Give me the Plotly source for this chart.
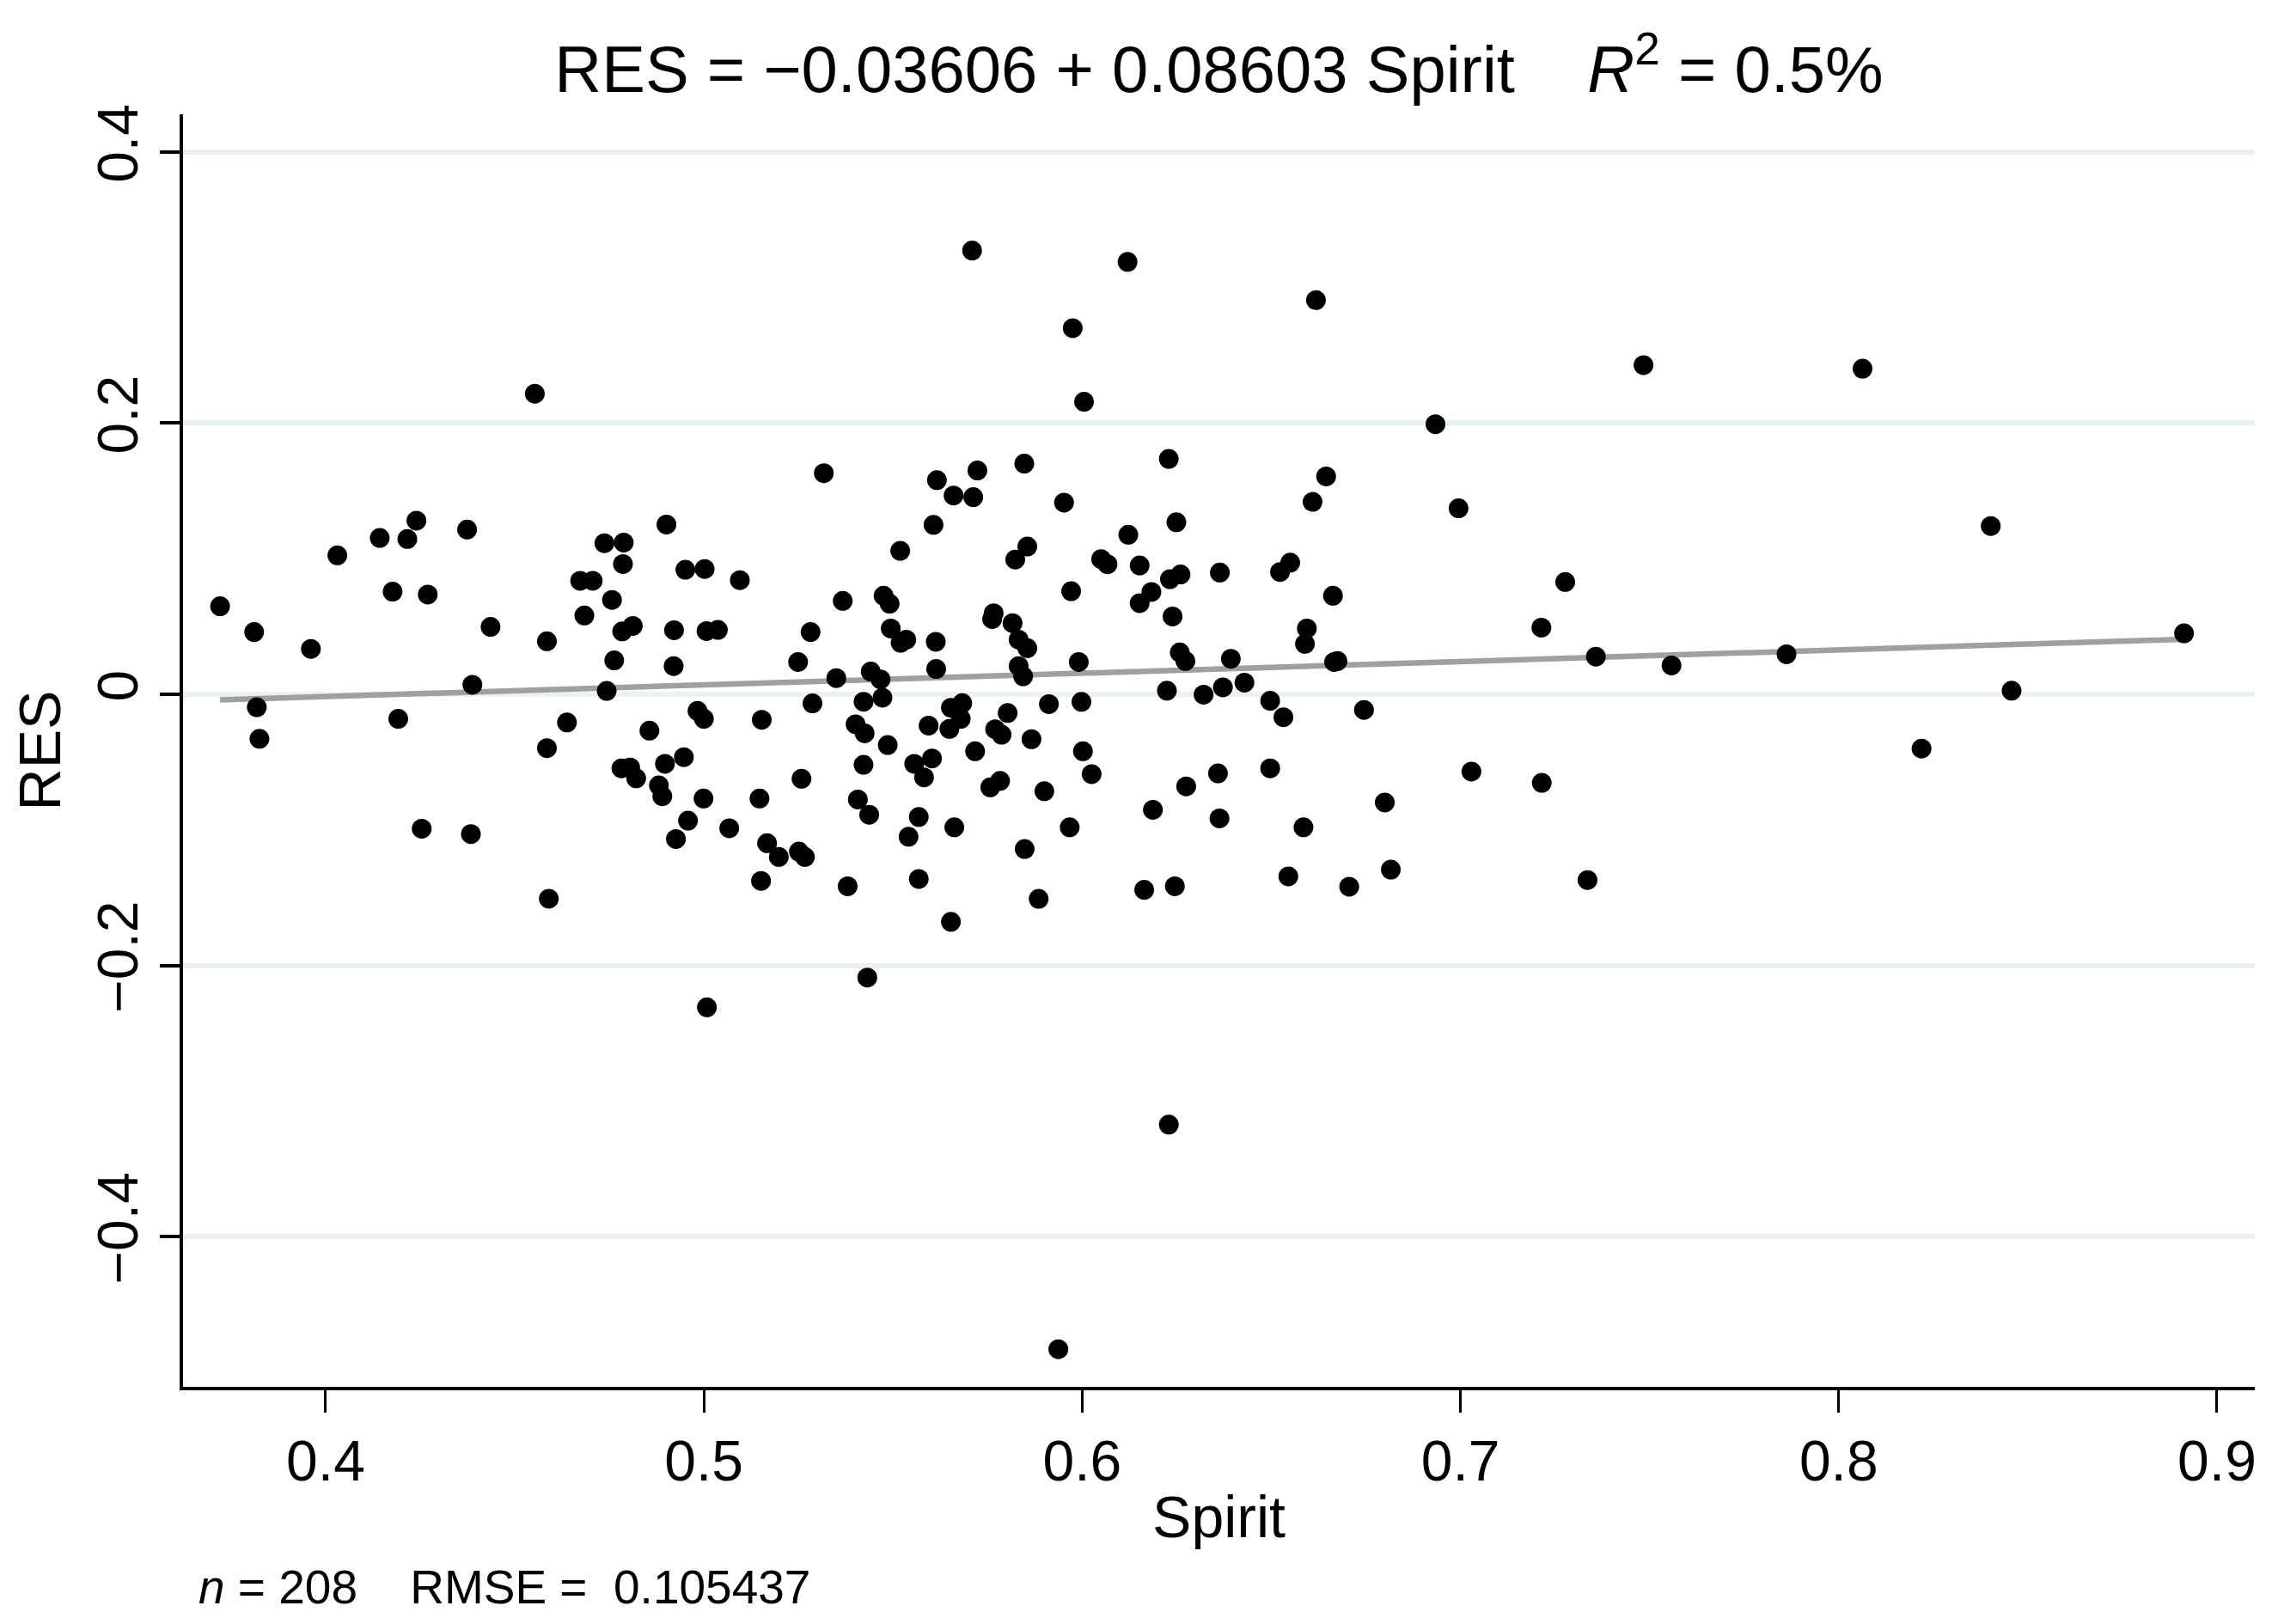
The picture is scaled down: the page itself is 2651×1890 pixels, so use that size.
import plotly.graph_objects as go

# ---- data ----
spirit = [
    0.4553, 0.3721, 0.3811, 0.3961, 0.4031, 0.4143, 0.4216, 0.4240, 0.4177, 0.4270,
    0.4374, 0.4436, 0.4585, 0.4388,
    0.3818, 0.3825, 0.4192, 0.4254, 0.4384, 0.4585, 0.4590,
    0.5317, 0.4901, 0.4737, 0.4788, 0.4786, 0.4673, 0.4706, 0.4951, 0.5002, 0.5095,
    0.4757, 0.4684, 0.4784, 0.4812, 0.4921, 0.5007, 0.5037, 0.4763, 0.4920, 0.4743,
    0.5282, 0.5249, 0.5367, 0.5475, 0.5491, 0.5494, 0.5350, 0.5441, 0.5467, 0.5472,
    0.5422, 0.5287,
    0.4638, 0.4856, 0.4983, 0.5000, 0.5153, 0.5401, 0.5425, 0.5486, 0.5422, 0.4782,
    0.4805, 0.4821, 0.4897, 0.4947, 0.4881, 0.4890, 0.4999, 0.4958, 0.4926, 0.5067,
    0.5147, 0.5258, 0.5167, 0.5198, 0.5251, 0.5267, 0.5151, 0.5380, 0.5407, 0.5437,
    0.5432, 0.5008,
    0.5709, 0.6120, 0.5975, 0.6005, 0.6229, 0.5847, 0.5616, 0.5723, 0.5660, 0.5712,
    0.5952, 0.5607, 0.6249, 0.6122, 0.5519, 0.5855, 0.5823, 0.6050, 0.6067, 0.6152,
    0.6232, 0.6260, 0.6364, 0.5971, 0.6183, 0.6152, 0.6239, 0.5766, 0.5762, 0.5816,
    0.5832, 0.5855, 0.5535, 0.5520, 0.5613, 0.5614, 0.5832, 0.5844, 0.5991, 0.6258,
    0.6273, 0.6393, 0.6224, 0.6321, 0.6372,
    0.5653, 0.5683, 0.5679, 0.5649, 0.5594, 0.5803, 0.5912, 0.5998, 0.5770, 0.5787,
    0.5866, 0.5717, 0.6002, 0.5556, 0.5603, 0.5582, 0.5757, 0.5783, 0.6025, 0.5900,
    0.5568, 0.5541, 0.5662, 0.5967, 0.5848, 0.5568, 0.5885, 0.5653, 0.6164, 0.6245,
    0.6187, 0.6275, 0.6359, 0.6363, 0.6229, 0.5937,
    0.6618, 0.6934, 0.6645, 0.6609, 0.6995, 0.6550, 0.6523, 0.6663, 0.7277, 0.7214,
    0.6594, 0.6589, 0.6666, 0.6675, 0.6429, 0.6497, 0.6532, 0.6745,
    0.6497, 0.6585, 0.6800, 0.7029, 0.7215, 0.6545, 0.6706, 0.6816, 0.7336,
    0.7484, 0.8063, 0.8402, 0.7358, 0.7558, 0.7862, 0.8913, 0.8457, 0.8219,
]

res = [
    0.2217, 0.0649, 0.0459, 0.0335, 0.1025, 0.1153, 0.1145, 0.1281, 0.0757, 0.0736,
    0.1215, 0.0497, 0.0391, 0.0070,
    -0.0095, -0.0328, -0.0181, -0.0991, -0.1031, -0.0397, -0.1508,
    0.1631, 0.1252, 0.1114, 0.1119, 0.0961, 0.0837, 0.0837, 0.0919, 0.0924, 0.0842,
    0.0696, 0.0581, 0.0464, 0.0504, 0.0473, 0.0466, 0.0475, 0.0250, 0.0208, 0.0025,
    0.0459, 0.0238, 0.0689, 0.0727, 0.0668, 0.0485, 0.0119, 0.0168, 0.0110, -0.0025,
    -0.0055, -0.0067,
    -0.0208, -0.0268, -0.0122, -0.0181, -0.0188, -0.0221, -0.0288, -0.0374, -0.0520, -0.0546,
    -0.0540, -0.0620, -0.0513, -0.0464, -0.0672, -0.0752, -0.0769, -0.0932, -0.1067, -0.0988,
    -0.0769, -0.0623, -0.1098, -0.1200, -0.1160, -0.1200, -0.1376, -0.1416, -0.0776, -0.0888,
    -0.2089, -0.2309,
    0.3273, 0.3189, 0.2700, 0.2158, 0.1736, 0.1701, 0.1579, 0.1651, 0.1466, 0.1454,
    0.1414, 0.1250, 0.1269, 0.1177, 0.1058, 0.1090, 0.0994, 0.0997, 0.0959, 0.0950,
    0.0849, 0.0884, 0.0898, 0.0760, 0.0755, 0.0672, 0.0574, 0.0598, 0.0555, 0.0525,
    0.0403, 0.0340, 0.0403, 0.0380, 0.0387, 0.0187, 0.0208, 0.0133, 0.0238, 0.0309,
    0.0245, 0.0262, 0.0027, -0.0003, 0.0051,
    -0.0099, -0.0065, -0.0181, -0.0255, -0.0231, -0.0138, -0.0072, -0.0056, -0.0258, -0.0298,
    -0.0331, -0.0420, -0.0420, -0.0513, -0.0473, -0.0613, -0.0686, -0.0639, -0.0589, -0.0715,
    -0.0905, -0.1051, -0.0981, -0.0981, -0.1141, -0.1362, -0.1509, -0.1678, -0.1442, -0.1416,
    -0.0852, -0.0679, -0.0583, -0.0915, -0.3174, -0.4830,
    0.2907, 0.1992, 0.1607, 0.1419, 0.1372, 0.0971, 0.0902, 0.0727, 0.0828, 0.0492,
    0.0485, 0.0372, 0.0238, 0.0245, 0.0086, -0.0048, -0.0169, -0.0115,
    -0.0546, -0.0981, -0.0798, -0.0570, -0.0653, -0.1343, -0.1419, -0.1293, -0.1370,
    0.2428, 0.2402, 0.1241, 0.0278, 0.0213, 0.0295, 0.0450, 0.0027, -0.0400,
]

# fitted line coefficients (from the chart title)
intercept = -0.03606
slope = 0.08603

x_ticks = [0.4, 0.5, 0.6, 0.7, 0.8, 0.9]
x_ticktext = ["0.4", "0.5", "0.6", "0.7", "0.8", "0.9"]
y_ticks = [-0.4, -0.2, 0, 0.2, 0.4]
y_ticktext = ["\u22120.4", "\u22120.2", "0", "0.2", "0.4"]

title_text = ("RES = \u22120.03606 + 0.08603 Spirit\u00a0\u00a0\u00a0\u00a0"
              "<i>R</i><sup>2</sup> = 0.5%")
note_text = "<i>n</i> = 208\u00a0\u00a0\u00a0\u00a0RMSE =\u00a0\u00a00.105437"

FONT = "Liberation Sans, Arial, Helvetica, sans-serif"

fig = go.Figure()
line_x = [min(spirit), max(spirit)]
line_y = [intercept + slope * v for v in line_x]
fig.add_trace(go.Scatter(x=line_x, y=line_y, mode="lines",
                         line=dict(color="#a0a0a0", width=6.5),
                         hoverinfo="skip", showlegend=False))
fig.add_trace(go.Scatter(x=spirit, y=res, mode="markers",
                         marker=dict(color="black", size=23, line=dict(width=0)),
                         showlegend=False))

W, H = 2635, 1874
fig.update_layout(
    width=W, height=H,
    margin=dict(l=205, r=19, t=125, b=268, pad=0),
    paper_bgcolor="white", plot_bgcolor="white",
    font=dict(family=FONT, color="black"),
    title=dict(text=title_text, x=0.5, xref="paper", xanchor="center",
               y=1 - 72 / H, yref="container", yanchor="middle",
               font=dict(size=76, family=FONT, color="black")),
    xaxis=dict(range=[0.3623, 0.91], tickmode="array", tickvals=x_ticks,
               ticktext=x_ticktext, ticks="outside", ticklen=26, tickwidth=3,
               tickcolor="black", showline=True, linewidth=4, linecolor="black",
               showgrid=False, zeroline=False,
               tickfont=dict(size=66, family=FONT, color="black"),
               title=dict(text="Spirit", font=dict(size=68, family=FONT, color="black"),
                          standoff=6)),
    yaxis=dict(range=[-0.5108, 0.4278], tickmode="array", tickvals=y_ticks,
               ticktext=y_ticktext, ticks="outside", ticklen=23, tickwidth=4,
               tickcolor="black", showline=True, linewidth=4, linecolor="black",
               showgrid=True, gridcolor="#EAF2F3", gridwidth=6, zeroline=False,
               tickangle=-90,
               tickfont=dict(size=66, family=FONT, color="black"),
               title=dict(text="RES", font=dict(size=68, family=FONT, color="black"),
                          standoff=20)),
    annotations=[dict(text=note_text, xref="paper", yref="paper",
                      x=0.0066, y=-0.1575, xanchor="left", yanchor="middle",
                      showarrow=False,
                      font=dict(size=55, family=FONT, color="black"))],
)

fig.write_html("out.html")
